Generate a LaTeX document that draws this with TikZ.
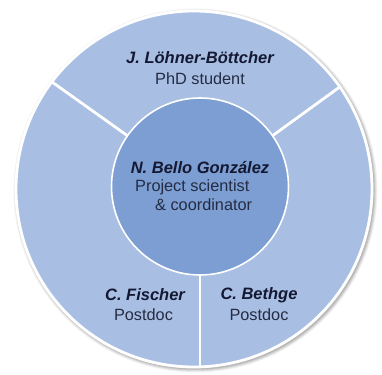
\documentclass[tikz,border=0pt]{standalone}
\usepackage{fontspec}
\setmainfont{Liberation Sans}
\begin{document}
\begin{tikzpicture}[x=1pt,y=1pt,
  ring/.style={circle, inner sep=0pt, outer sep=0pt},
  divider/.style={draw=white, line width=2.8pt},
  namelbl/.style={font=\fontsize{16.5}{18}\selectfont\bfseries\itshape, text=namecol, inner sep=0pt},
  rolelbl/.style={font=\fontsize{16.3}{18}\selectfont, text=rolecol, inner sep=0pt}]
\definecolor{outerfill}{RGB}{168,191,227}
\definecolor{innerfill}{RGB}{124,158,210}
\definecolor{namecol}{RGB}{20,24,50}
\definecolor{rolecol}{RGB}{36,44,68}
\useasboundingbox (0,0) rectangle (382,374);
% soft shadow
\foreach \s/\o in {4/0.05,3/0.07,2/0.09,1/0.1}{
  \fill[black, opacity=\o] (195.5,183.5) circle (178+\s);
}
\node[ring, minimum size=356pt, fill=outerfill] (outer) at (194,185) {};
\coordinate (bl) at (200,6);
\node[ring, minimum size=177pt] (innerpos) at (200,187.5) {};
\draw[divider] (innerpos.145.6) -- (outer.143.8);
\draw[divider] (innerpos.35.9) -- (outer.35.5);
\draw[divider] (innerpos.south) -- (bl);
\node[ring, minimum size=177pt, fill=innerfill, draw=white, line width=1.6pt] (inner) at (200,187.5) {};
\draw[white, line width=2.8pt] (outer.center) circle (178);
% texts
\node[namelbl] (n1) at (200,316) {J. Löhner-Böttcher};
\node[rolelbl] (r1) at (200,295) {PhD student};
\node[namelbl] (n2) at (200,206) {N. Bello González};
\node[rolelbl, anchor=west] (r2a) at (135,187) {Project scientist};
\node[rolelbl, anchor=west] (r2b) at (155,169) {\& coordinator};
\node[namelbl] (n3) at (145,79) {C. Fischer};
\node[rolelbl] (r3) at (143.5,59) {Postdoc};
\node[namelbl] (n4) at (259,79) {C. Bethge};
\node[rolelbl] (r4) at (259,59) {Postdoc};
\end{tikzpicture}
\end{document}
